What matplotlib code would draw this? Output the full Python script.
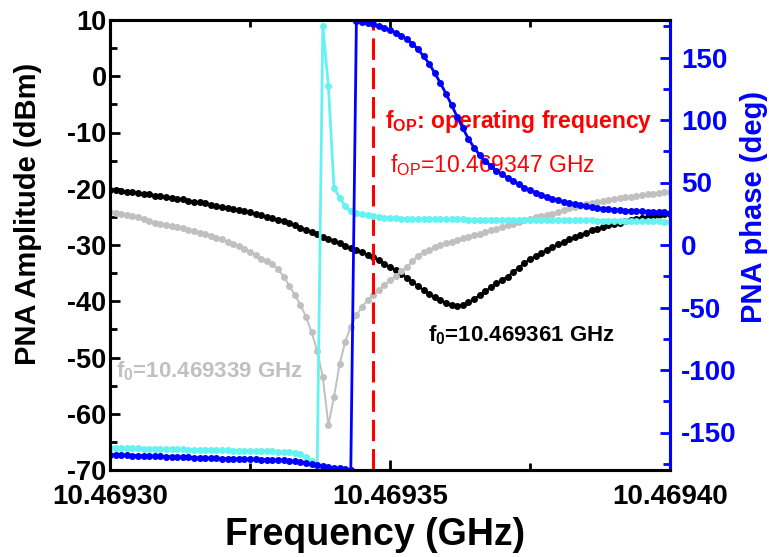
import numpy as np
import matplotlib
matplotlib.use("Agg")
import matplotlib.pyplot as plt
from matplotlib.ticker import MultipleLocator, FormatStrFormatter

plt.rcParams["font.family"] = ["Liberation Sans", "DejaVu Sans"]
plt.rcParams["font.weight"] = "bold"
plt.rcParams["axes.unicode_minus"] = False
plt.rcParams["mathtext.fontset"] = "custom"
plt.rcParams["mathtext.rm"] = "Liberation Sans:regular"
plt.rcParams["mathtext.bf"] = "Liberation Sans:bold"

# frequency sweep, 101 points (GHz)
freq = np.linspace(10.46930, 10.46940, 101)

# amplitude at the operating point (dBm), f0 = 10.469361 GHz
amp_black = [
    -20.2, -20.3, -20.4, -20.5, -20.6, -20.8, -20.9, -21.0, -21.2, -21.3,
    -21.5, -21.6, -21.8, -21.9, -22.1, -22.3, -22.4, -22.6, -22.8, -23.0,
    -23.2, -23.4, -23.6, -23.8, -24.0, -24.2, -24.4, -24.7, -25.0, -25.2,
    -25.5, -25.8, -26.1, -26.5, -26.9, -27.3, -27.7, -28.1, -28.5, -28.9,
    -29.3, -29.7, -30.1, -30.5, -30.9, -31.3, -31.7, -32.1, -32.7, -33.3,
    -33.9, -34.5, -35.1, -35.8, -36.5, -37.3, -38.0, -38.7, -39.3, -39.8,
    -40.3, -40.6, -40.8, -40.6, -40.2, -39.6, -38.9, -38.2, -37.5, -36.8,
    -36.2, -35.6, -34.8, -34.0, -33.2, -32.5, -32.0, -31.4, -30.9, -30.4,
    -29.9, -29.4, -29.0, -28.6, -28.2, -27.8, -27.4, -27.1, -26.8, -26.5,
    -26.3, -26.0, -25.8, -25.6, -25.4, -25.2, -25.0, -24.8, -24.7, -24.5,
    -24.4,
]

# amplitude, f0 = 10.469339 GHz
amp_gray = [
    -24.1, -24.3, -24.5, -24.7, -24.9, -25.1, -25.4, -25.7, -26.0, -26.2,
    -26.4, -26.6, -26.8, -27.0, -27.3, -27.5, -27.8, -28.1, -28.4, -28.7,
    -29.0, -29.4, -29.8, -30.2, -30.7, -31.2, -31.8, -32.4, -32.9, -33.4,
    -34.3, -35.6, -37.2, -38.9, -40.6, -42.8, -45.5, -48.8, -53.5, -62.0,
    -57.0, -51.2, -47.2, -44.5, -42.5, -41.0, -39.8, -38.9, -38.0, -37.1,
    -36.3, -35.5, -34.7, -33.9, -32.9, -31.9, -31.3, -30.9, -30.4, -30.0,
    -29.7, -29.4, -29.1, -28.8, -28.5, -28.2, -28.0, -27.7, -27.4, -27.1,
    -26.8, -26.5, -26.2, -25.9, -25.6, -25.4, -25.1, -24.9, -24.6, -24.4,
    -24.1, -23.8, -23.5, -23.2, -23.0, -22.7, -22.5, -22.3, -22.1, -22.0,
    -21.8, -21.7, -21.5, -21.4, -21.2, -21.1, -21.0, -20.9, -20.7, -20.6,
    -20.5,
]

# phase (deg), resonance at 10.469339 GHz
phase_cyan = [
    -162.2, -162.3, -162.4, -162.5, -162.6, -162.7, -162.8, -162.9, -163.0, -163.1,
    -163.2, -163.3, -163.4, -163.5, -163.6, -163.7, -163.8, -163.9, -164.0, -164.1,
    -164.2, -164.3, -164.4, -164.5, -164.6, -164.7, -164.8, -164.9, -165.0, -165.1,
    -165.2, -165.4, -165.6, -166.2, -167.2, -169.3, -172.5, -176.8, 175.4, 127.0,
    45.5, 37.9, 31.0, 27.0, 25.3, 24.5, 23.7, 23.2, 22.5, 22.0,
    21.6, 21.4, 21.2, 21.0, 20.9, 20.8, 20.7, 20.7, 20.6, 20.6,
    20.5, 20.5, 20.5, 20.5, 20.4, 20.4, 20.4, 20.4, 20.3, 20.3,
    20.3, 20.3, 20.2, 20.2, 20.2, 20.1, 20.1, 20.1, 20.0, 20.0,
    20.0, 19.9, 19.9, 19.8, 19.8, 19.7, 19.7, 19.6, 19.6, 19.5,
    19.5, 19.4, 19.3, 19.3, 19.2, 19.1, 19.0, 19.0, 18.9, 18.8,
    18.7,
]

# phase (deg), resonance at 10.469361 GHz
phase_blue = [
    -167.8, -167.9, -168.1, -168.2, -168.4, -168.5, -168.7, -168.8, -169.0, -169.1,
    -169.3, -169.4, -169.6, -169.8, -169.9, -170.1, -170.3, -170.4, -170.5, -170.7,
    -170.8, -170.9, -171.0, -171.1, -171.3, -171.4, -171.5, -171.6, -171.7, -171.9,
    -172.0, -172.2, -172.5, -173.1, -173.8, -174.5, -175.5, -176.3, -177.0, -177.5,
    -178.2, -178.7, -179.2, -179.6, 179.2, 178.4, 177.6, 176.6, 175.3, 173.8,
    172.0, 169.8, 167.5, 164.5, 161.0, 156.5, 151.0, 145.0, 137.5, 129.5,
    121.0, 112.0, 102.5, 93.5, 85.0, 78.0, 72.0, 67.0, 63.0, 59.5,
    56.5, 53.8, 51.0, 48.5, 46.0, 44.0, 42.0, 40.2, 38.6, 37.2,
    35.9, 34.7, 33.6, 32.6, 31.8, 31.0, 30.3, 29.7, 29.2, 28.7,
    28.3, 27.9, 27.6, 27.3, 27.1, 26.9, 26.7, 26.5, 26.3, 26.1,
    26.0,
]

f_op = 10.469347

fig = plt.figure(figsize=(7.69, 5.57), dpi=100)
ax = fig.add_axes([110 / 769, 87 / 557, 560 / 769, 450 / 557])
ax2 = ax.twinx()

ms = 4.0
ax.plot(freq, amp_black, "-o", color="black", ms=ms, lw=1.4, zorder=3)
ax.plot(freq, amp_gray, "-o", color="#c0c0c0", ms=ms, lw=1.4, zorder=3)
ax.axvline(f_op, color="red", lw=2.2, dashes=(7, 2.6), zorder=4)

ax2.plot(freq, phase_cyan, "-o", color="#66f2f2", ms=ms, lw=2.0)
ax2.plot(freq, phase_blue, "-o", color="#0000ff", ms=ms, lw=2.0)

ax.set_xlim(10.46930, 10.46940)
ax.set_ylim(-70, 10)
ax2.set_ylim(-180, 180)

ax.xaxis.set_major_locator(MultipleLocator(0.00005))
ax.xaxis.set_minor_locator(MultipleLocator(0.000025))
ax.xaxis.set_major_formatter(FormatStrFormatter("%.5f"))
ax.yaxis.set_major_locator(MultipleLocator(10))
ax.yaxis.set_minor_locator(MultipleLocator(5))
ax2.yaxis.set_major_locator(MultipleLocator(50))
ax2.yaxis.set_minor_locator(MultipleLocator(25))

for s in ax.spines.values():
    s.set_linewidth(2.2)
for s in ax2.spines.values():
    s.set_linewidth(2.2)
ax2.spines["right"].set_color("#0000ff")

ax.tick_params(axis="x", which="both", direction="in", top=True, width=2, labelsize=20, pad=10)
ax.tick_params(axis="x", which="major", length=7)
ax.tick_params(axis="x", which="minor", length=5)
ax.tick_params(axis="y", which="both", direction="in", width=2, labelsize=19.5, pad=2.5)
ax.tick_params(axis="y", which="major", length=7)
ax.tick_params(axis="y", which="minor", length=5)
ax2.tick_params(axis="y", which="both", direction="in", width=2, labelsize=20, pad=8,
                color="#0000ff", labelcolor="#0000ff")
ax2.tick_params(axis="y", which="major", length=7)
ax2.tick_params(axis="y", which="minor", length=5)

ax.set_xlabel("Frequency (GHz)", fontsize=27, fontweight="bold")
ax.xaxis.set_label_coords(0.473, -0.105)
ax.set_ylabel("PNA Amplitude (dBm)", fontsize=21, fontweight="bold")
ax.yaxis.set_label_coords(-0.121, 0.569)
ax2.set_ylabel("PNA phase (deg)", fontsize=21, fontweight="bold", color="#0000ff")
ax2.yaxis.set_label_coords(1.125, 0.584)

ax.text(10.4693491, -9.2, r"$\mathbf{f}_{\mathbf{OP}}$: operating frequency",
        color="red", fontsize=16.5, fontweight="bold", va="baseline", zorder=2)
ax.text(10.4693500, -17.0, r"$\mathrm{f}_{\mathrm{OP}}$=10.469347 GHz",
        color="red", fontsize=16.5, fontweight="normal", va="baseline", zorder=2)
ax.text(10.4693568, -47.2, r"$\mathbf{f}_{\mathbf{0}}$=10.469361 GHz",
        color="black", fontsize=16, fontweight="bold", va="baseline", zorder=2)
ax.text(10.4693011, -53.6, r"$\mathbf{f}_{\mathbf{0}}$=10.469339 GHz",
        color="#c0c0c0", fontsize=16, fontweight="bold", va="baseline", zorder=2)

fig.savefig("out.png", dpi=100)
